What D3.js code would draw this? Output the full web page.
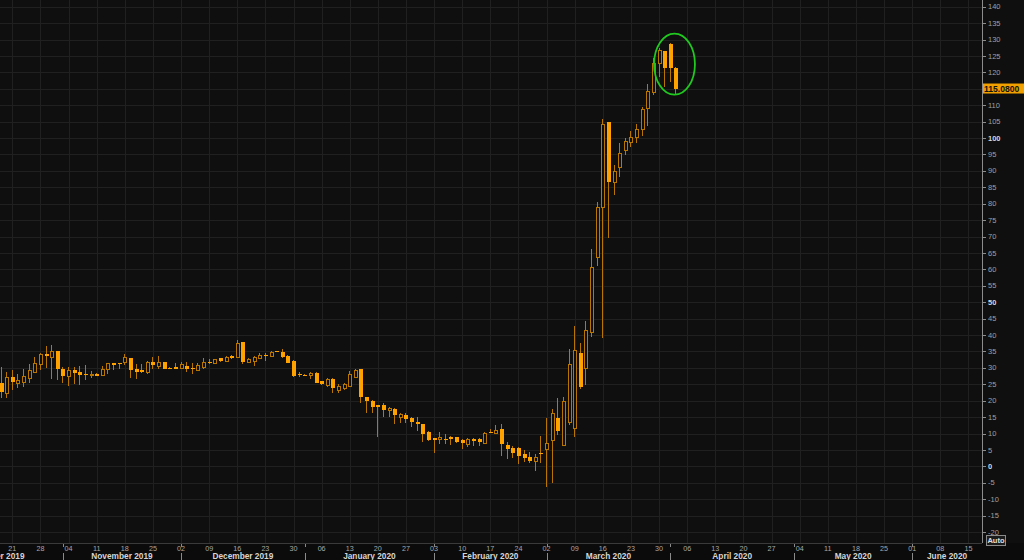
<!DOCTYPE html>
<html><head><meta charset="utf-8">
<script src="https://cdn.jsdelivr.net/npm/d3@7"></script>
<style>html,body{margin:0;padding:0;background:#0e0e0e;overflow:hidden}</style>
</head><body>
<svg id="c" width="1024" height="560"></svg>
<script>
// ---------------- data ----------------
const dates = [
"2019-10-17","2019-10-18","2019-10-21","2019-10-22","2019-10-23","2019-10-24","2019-10-25",
"2019-10-28","2019-10-29","2019-10-30","2019-10-31","2019-11-01",
"2019-11-04","2019-11-05","2019-11-06","2019-11-07","2019-11-08",
"2019-11-11","2019-11-12","2019-11-13","2019-11-14","2019-11-15",
"2019-11-18","2019-11-19","2019-11-20","2019-11-21","2019-11-22",
"2019-11-25","2019-11-26","2019-11-27","2019-11-28","2019-11-29",
"2019-12-02","2019-12-03","2019-12-04","2019-12-05","2019-12-06",
"2019-12-09","2019-12-10","2019-12-11","2019-12-12","2019-12-13",
"2019-12-16","2019-12-17","2019-12-18","2019-12-19","2019-12-20",
"2019-12-23","2019-12-24","2019-12-25","2019-12-26","2019-12-27",
"2019-12-30","2019-12-31","2020-01-01","2020-01-02","2020-01-03",
"2020-01-06","2020-01-07","2020-01-08","2020-01-09","2020-01-10",
"2020-01-13","2020-01-14","2020-01-15","2020-01-16","2020-01-17",
"2020-01-20","2020-01-21","2020-01-22","2020-01-23","2020-01-24",
"2020-01-27","2020-01-28","2020-01-29","2020-01-30","2020-01-31",
"2020-02-03","2020-02-04","2020-02-05","2020-02-06","2020-02-07",
"2020-02-10","2020-02-11","2020-02-12","2020-02-13","2020-02-14",
"2020-02-17","2020-02-18","2020-02-19","2020-02-20","2020-02-21",
"2020-02-24","2020-02-25","2020-02-26","2020-02-27","2020-02-28",
"2020-03-02","2020-03-03","2020-03-04","2020-03-05","2020-03-06",
"2020-03-09","2020-03-10","2020-03-11","2020-03-12","2020-03-13",
"2020-03-16","2020-03-17","2020-03-18","2020-03-19","2020-03-20",
"2020-03-23","2020-03-24","2020-03-25","2020-03-26","2020-03-27",
"2020-03-30","2020-03-31","2020-04-01","2020-04-02"];

const opens = [
25.3,22.2,27.1,25.3,25.8,27.0,28.8,
31.2,34.1,33.4,35.2,29.6,
27.6,29.4,28.8,28.1,28.0,
28.1,27.8,29.6,31.4,31.6,
31.7,32.9,29.5,29.2,28.8,
31.7,30.7,31.7,30.1,30.3,
30.1,30.7,30.1,29.3,30.2,
31.9,31.4,32.9,32.2,33.6,
33.2,37.8,31.7,32.1,33.1,
34.0,33.5,35.0,34.9,33.6,
32.1,28.2,27.95,27.9,28.3,
25.9,24.8,26.6,23.3,23.8,
24.5,27.3,29.5,21.0,19.9,
18.7,18.7,17.2,17.4,14.9,
15.7,14.8,13.6,12.8,10.4,
8.5,8.2,8.4,9.0,8.8,
8.0,6.8,8.2,8.2,7.2,
10.35,10.1,11.4,6.5,5.7,
5.5,3.8,2.7,1.6,4.2,
5.2,8.0,14.6,6.5,13.4,
11.6,34.6,29.9,40.8,63.9,
79.1,104.8,86.7,91.2,96.4,
98.9,100.4,102.6,109.0,114.1,
122.8,126.6,128.6,121.4];

const highs = [
30.2,28.6,29.3,28.0,29.5,31.2,33.2,
34.4,36.6,37.0,35.2,30.2,
30.4,30.2,30.6,30.9,29.1,
28.3,30.7,31.6,31.6,31.6,
34.1,32.9,31.2,31.1,32.1,
33.2,33.6,31.8,30.2,31.4,
31.9,31.7,31.4,31.4,32.9,
32.7,32.7,33.1,33.5,33.9,
38.6,37.8,32.9,33.7,34.4,
34.4,35.0,35.0,35.6,34.0,
32.3,28.8,28.0,28.6,28.6,
26.0,27.0,26.8,25.1,25.5,
29.1,29.5,29.5,21.2,20.2,
18.7,19.2,18.2,17.7,16.3,
16.1,15.1,14.9,12.8,10.8,
8.5,10.4,9.7,9.2,9.0,
8.2,8.5,8.5,8.5,10.6,
11.3,12.6,12.9,7.5,6.3,
5.8,5.0,4.5,3.7,9.2,
14.6,17.5,20.7,21.0,35.7,
42.7,37.5,44.4,66.1,80.6,
105.8,104.8,91.8,98.6,100.0,
102.0,104.4,109.4,116.4,124.3,
127.3,126.6,129.0,121.7];

const lows = [
20.7,20.7,23.2,23.8,24.3,25.5,28.8,
29.3,30.0,26.5,26.3,25.3,
24.5,25.1,24.8,26.3,26.8,
27.4,27.6,28.1,29.3,29.8,
30.9,27.0,26.5,28.3,28.1,
29.8,29.6,29.7,29.6,29.6,
29.6,28.6,28.0,29.0,29.8,
31.2,31.1,31.9,32.0,32.7,
32.9,31.2,31.5,30.7,32.6,
32.2,33.3,34.8,33.0,31.4,
27.1,27.1,27.8,26.5,25.3,
24.9,24.3,22.4,22.4,23.3,
24.1,27.1,19.2,16.3,16.1,
8.8,14.9,15.1,12.9,13.1,
13.1,12.1,10.9,7.3,7.8,
4.0,6.8,6.7,6.5,7.0,
5.3,6.0,6.2,6.2,6.8,
10.1,10.1,3.3,2.2,2.4,
0.7,1.4,0.9,-1.3,1.1,
-6.2,-5.0,9.5,6.5,12.5,
8.8,23.5,24.8,39.3,61.0,
39.0,69.4,82.6,88.2,94.8,
97.4,98.6,100.6,103.7,113.0,
118.7,115.6,117.2,113.1];

const closes = [
22.5,27.1,25.8,26.3,27.4,29.2,31.5,
34.2,33.7,35.2,29.6,27.6,
29.4,28.3,27.8,27.8,28.2,
27.6,29.6,31.4,30.8,31.2,
33.3,29.4,28.8,28.6,31.7,
30.9,31.9,29.8,29.8,29.6,
31.1,29.6,29.6,30.9,31.9,
31.4,32.6,32.2,33.3,32.9,
37.5,31.7,32.7,33.4,34.0,
33.7,34.9,34.8,33.2,31.6,
27.6,27.8,27.85,28.3,25.5,
25.1,26.6,23.8,24.6,25.1,
28.0,29.3,21.0,20.0,18.2,
18.2,17.2,17.7,15.5,15.9,
14.3,13.4,12.8,10.0,8.0,
8.0,8.8,8.3,8.2,7.5,
7.2,8.2,7.7,7.5,10.3,
10.25,11.1,6.8,5.3,4.2,
3.3,2.6,1.6,2.9,3.9,
7.0,16.3,10.9,20.0,31.1,
35.4,24.1,41.5,60.6,78.9,
104.2,86.7,89.9,95.5,99.2,
100.2,102.6,108.9,114.3,122.8,
126.8,121.2,121.2,115.08];

const yTickValues = d3.range(-20, 141, 5);
const boldTicks = [0, 50, 100];
const lastPrice = 115.08;
const lastPriceLabel = "115.0800";
const monthNames = ["October 2019","November 2019","December 2019","January 2020",
  "February 2020","March 2020","April 2020","May 2020","June 2020"];
const monthStarts = ["2019-10-01","2019-11-01","2019-12-02","2020-01-01","2020-02-03",
  "2020-03-02","2020-04-01","2020-05-01","2020-06-01","2020-07-01"];
const axisStart = "2019-10-21";
const axisEnd = "2020-06-15";
const highlightDates = ["2020-03-30","2020-04-02"];
const highlightRange = [113.5, 131.5];

// ---------------- layout ----------------
const W = 1024, H = 560;
const plotRight = 982, plotBottom = 543;
const BG = "#0f0f0f", GRID = "#202020";
const FILL = "#ffa200", LINE = "#b87600";
const FONT = "Liberation Sans, Arial, sans-serif";

const parse = d3.timeParse("%Y-%m-%d");
const base = parse(axisStart);
function tIndex(d) {
  const days = d3.timeDay.count(base, d);
  const w = Math.floor(days / 7);
  const r = days - 7 * w;
  return w * 5 + Math.min(r, 5);
}
const endIdx = tIndex(parse(axisEnd));
const x = d3.scaleLinear().domain([0, endIdx]).range([12.3, 968.4]);
const y = d3.scaleLinear().domain([-20, 140]).range([532.0, 6.7]);

const svg = d3.select("#c");
svg.append("rect").attr("width", W).attr("height", H).attr("fill", BG);
svg.append("rect").attr("x",0).attr("y",plotBottom).attr("width",W).attr("height",H-plotBottom).attr("fill","#0b0b0b");

const g = svg.append("g");
g.selectAll("line.hg").data(yTickValues).join("line")
  .attr("x1", 0).attr("x2", plotRight)
  .attr("y1", d => Math.round(y(d)) + 0.5).attr("y2", d => Math.round(y(d)) + 0.5)
  .attr("stroke", GRID).attr("stroke-width", 1);
const mondays = d3.timeMonday.range(base, d3.timeDay.offset(parse(axisEnd), 1));
g.selectAll("line.vg").data(mondays).join("line")
  .attr("x1", d => Math.round(x(tIndex(d))) + 0.5).attr("x2", d => Math.round(x(tIndex(d))) + 0.5)
  .attr("y1", 0).attr("y2", plotBottom)
  .attr("stroke", GRID).attr("stroke-width", 1);

// candles
const data = dates.map((d, i) => ({ date: parse(d), o: opens[i], h: highs[i], l: lows[i], c: closes[i] }));
const cg = svg.append("g").attr("shape-rendering", "crispEdges");
data.forEach(d => {
  const cx = x(tIndex(d.date));
  const p = Math.round(cx - 0.5);
  const yh = Math.round(y(d.h)), yl = Math.round(y(d.l));
  const yt = Math.round(y(Math.max(d.o, d.c))), yb = Math.round(y(Math.min(d.o, d.c)));
  cg.append("line").attr("x1", p + 0.5).attr("x2", p + 0.5)
    .attr("y1", yh).attr("y2", Math.max(yl, yh + 1))
    .attr("stroke", LINE).attr("stroke-width", 1);
  if (d.c >= d.o) {
    cg.append("rect").attr("x", p - 0.5).attr("y", yt + 0.5)
      .attr("width", 3).attr("height", Math.max(1, yb - yt))
      .attr("fill", BG).attr("stroke", LINE).attr("stroke-width", 1);
  } else {
    cg.append("rect").attr("x", p - 1).attr("y", yt)
      .attr("width", 4).attr("height", Math.max(1, yb - yt))
      .attr("fill", FILL);
  }
});

// highlight ellipse
const hx0 = x(tIndex(parse(highlightDates[0]))), hx1 = x(tIndex(parse(highlightDates[1])));
svg.append("ellipse")
  .attr("cx", (hx0 + hx1) / 2 + 7).attr("cy", (y(highlightRange[0]) + y(highlightRange[1])) / 2)
  .attr("rx", (hx1 - hx0) / 2 + 12).attr("ry", (y(highlightRange[0]) - y(highlightRange[1])) / 2 + 1)
  .attr("fill", "none").attr("stroke", "#20c820").attr("stroke-width", 1.8);

// right axis
const yp = y(lastPrice);
const ax = svg.append("g");
ax.append("line").attr("x1", plotRight + 0.5).attr("x2", plotRight + 0.5).attr("y1", 0).attr("y2", plotBottom)
  .attr("stroke", "#8c8c8c").attr("stroke-width", 1);
ax.selectAll("line.t").data(yTickValues).join("line")
  .attr("x1", plotRight).attr("x2", plotRight + 4)
  .attr("y1", d => Math.round(y(d)) + 0.5).attr("y2", d => Math.round(y(d)) + 0.5)
  .attr("stroke", "#8c8c8c");
ax.selectAll("text.t").data(yTickValues.filter(d => Math.abs(y(d) - yp) > 9)).join("text")
  .attr("x", plotRight + 6).attr("y", d => y(d) + 2.6)
  .attr("font-family", FONT)
  .attr("font-size", 7.5)
  .attr("font-weight", d => boldTicks.includes(d) ? "bold" : "normal")
  .attr("fill", d => boldTicks.includes(d) ? "#d8d8d8" : "#a0a0a0")
  .text(d => d);

// last price tag
svg.append("rect").attr("x", plotRight + 1).attr("y", yp - 5).attr("width", W - plotRight - 1).attr("height", 10).attr("fill", "#f2a000");
svg.append("text").attr("x", plotRight + 2).attr("y", yp + 3.2)
  .attr("font-family", FONT).attr("font-size", 8.6).attr("font-weight", "bold")
  .attr("fill", "#111").text(lastPriceLabel);

// Auto button
svg.append("rect").attr("x", 986.5).attr("y", 535.5).attr("width", 19).attr("height", 10)
  .attr("fill", "#1c1c1c").attr("stroke", "#8a8a8a");
svg.append("text").attr("x", 996).attr("y", 543.3).attr("text-anchor", "middle")
  .attr("font-family", FONT).attr("font-size", 7.5).attr("font-weight", "bold")
  .attr("fill", "#e0e0e0").text("Auto");

// bottom axis
svg.append("line").attr("x1", 0).attr("x2", plotRight).attr("y1", plotBottom + 0.5).attr("y2", plotBottom + 0.5)
  .attr("stroke", "#3a3a3a");
const fmt = d3.timeFormat("%d");
svg.selectAll("text.d").data(mondays).join("text")
  .attr("x", d => x(tIndex(d))).attr("y", 551).attr("text-anchor", "middle")
  .attr("font-family", FONT).attr("font-size", 7.2)
  .attr("fill", "#a8a8a8").text(d => fmt(d));

const ms = monthStarts.map(s => x(tIndex(parse(s))));
monthNames.forEach((name, i) => {
  const a = ms[i], b = Math.min(ms[i + 1], plotRight);
  svg.append("text").attr("x", (a + b) / 2).attr("y", 559.2).attr("text-anchor", "middle")
    .attr("font-family", FONT).attr("font-size", 8.3).attr("font-weight", "bold")
    .attr("fill", "#d6d6d6").text(name);
  if (i > 0) {
    const px = Math.round(a) + 0.5;
    svg.append("line").attr("x1", px).attr("x2", px).attr("y1", 553).attr("y2", 560).attr("stroke", "#8a8a8a");
    svg.append("line").attr("x1", px).attr("x2", px).attr("y1", 544).attr("y2", 547).attr("stroke", "#8a8a8a");
  }
});
</script>
</body></html>
